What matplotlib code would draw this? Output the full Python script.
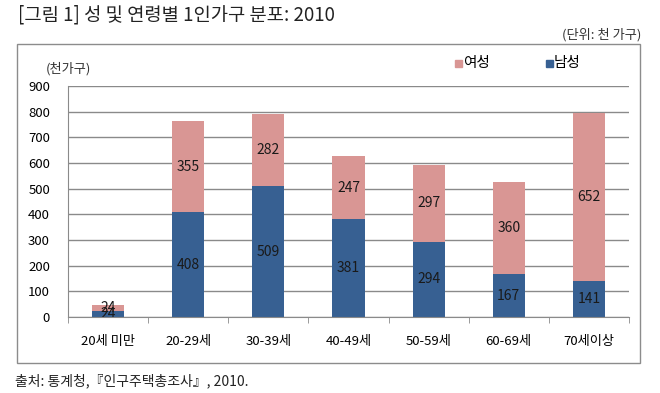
import numpy as np
import matplotlib
matplotlib.use("Agg")
import matplotlib.pyplot as plt
from matplotlib.patches import Rectangle

plt.rcParams["font.family"] = ["Noto Sans CJK KR", "DejaVu Sans"]
plt.rcParams["axes.unicode_minus"] = False

# 연령대별 1인가구 (천 가구)
age_groups = ["20세 미만", "20-29세", "30-39세", "40-49세", "50-59세", "60-69세", "70세이상"]
male = [24, 408, 509, 381, 294, 167, 141]
female = [24, 355, 282, 247, 297, 360, 652]
y_ticks = [0, 100, 200, 300, 400, 500, 600, 700, 800, 900]

male_color = "#376092"
female_color = "#D99694"
grid_color = "#8a8a8a"

W, H = 660, 393
fig = plt.figure(figsize=(W / 100, H / 100), dpi=100)

# 바깥 테두리
fig.patches.append(Rectangle((17 / W, 1 - 363 / H), (640 - 17) / W, (363 - 44) / H,
                             transform=fig.transFigure, fill=False,
                             edgecolor="#8c8c8c", linewidth=1))

ax = fig.add_axes([68 / W, 1 - 317 / H, (629 - 68) / W, (317 - 86) / H])

x = np.arange(len(age_groups))
ax.bar(x, male, width=0.4, color=male_color, zorder=3)
ax.bar(x, female, width=0.4, bottom=male, color=female_color, zorder=3)

# 데이터 레이블
for i in range(len(x)):
    ax.text(x[i], male[i] / 2, str(male[i]), ha="center", va="center",
            fontsize=10, color="#1a1a1a", zorder=4)
    ax.text(x[i], male[i] + female[i] / 2, str(female[i]), ha="center", va="center",
            fontsize=10, color="#1a1a1a", zorder=4)

ax.set_xlim(-0.5, len(age_groups) - 0.5)
ax.set_ylim(0, 900)
ax.set_yticks(y_ticks)
ax.tick_params(axis="y", length=0, labelsize=9.5, pad=13)
ax.yaxis.grid(True, color=grid_color, linewidth=1, zorder=0)

ax.set_xticks(x)
ax.set_xticklabels(age_groups, fontsize=9.5)
ax.set_xticks(np.arange(-0.5, len(age_groups)), minor=True)
ax.tick_params(axis="x", which="major", length=0, pad=13)
ax.tick_params(axis="x", which="minor", length=4, color=grid_color, direction="out")

for s in ["top", "right"]:
    ax.spines[s].set_visible(False)
ax.spines["left"].set_color(grid_color)
ax.spines["bottom"].set_color(grid_color)
ax.spines["bottom"].set_zorder(5)

# 제목 및 주석
fig.text(18 / W, 1 - 15 / H, "[그림 1] 성 및 연령별 1인가구 분포: 2010",
         fontsize=13.5, va="center", ha="left", color="#222222")
fig.text(641 / W, 1 - 35 / H, "(단위: 천 가구)", fontsize=9.5,
         va="center", ha="right", color="#333333")
fig.text(68 / W, 1 - 69 / H, "(천가구)", fontsize=9.5, va="center", ha="center",
         color="#333333")
fig.text(15 / W, 1 - 381 / H, "출처: 통계청,『인구주택총조사』, 2010.", fontsize=10,
         va="center", ha="left", color="#222222")

# 범례
fig.patches.append(Rectangle((455 / W, 1 - 66.5 / H), 7 / W, 7 / H,
                             transform=fig.transFigure, color=female_color))
fig.text(463 / W, 1 - 63 / H, "여성", fontsize=10.5, va="center", ha="left")
fig.patches.append(Rectangle((546 / W, 1 - 66.5 / H), 7 / W, 7 / H,
                             transform=fig.transFigure, color=male_color))
fig.text(554 / W, 1 - 63 / H, "남성", fontsize=10.5, va="center", ha="left")

fig.savefig("out.png", dpi=100)
